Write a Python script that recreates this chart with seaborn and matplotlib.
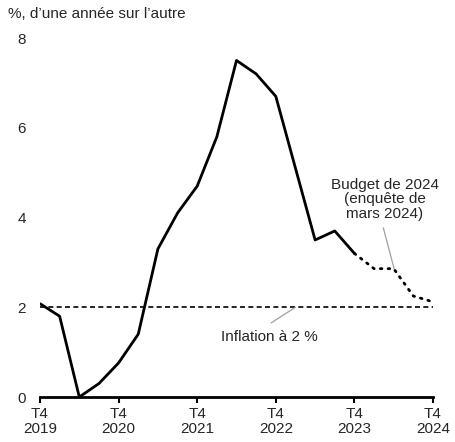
import seaborn as sns
import matplotlib.pyplot as plt
import pandas as pd

# Inflation IPC, trimestres depuis T4 2019
trimestres_hist = list(range(0, 17))
inflation_hist = [2.08, 1.8, 0.0, 0.3, 0.76, 1.4, 3.3, 4.1, 4.7, 5.8, 7.5, 7.2, 6.7, 5.1, 3.5, 3.7, 3.2]
trimestres_proj = [16, 17, 18, 19, 20]
inflation_proj = [3.2, 2.86, 2.86, 2.25, 2.12]
cible = 2.0

tick_pos = [0, 4, 8, 12, 16, 20]
tick_labels = ['T4\n2019', 'T4\n2020', 'T4\n2021', 'T4\n2022', 'T4\n2023', 'T4\n2024']
y_ticks = [0, 2, 4, 6, 8]

sns.set_style('white')
plt.rcParams['font.family'] = ['Liberation Sans', 'DejaVu Sans']
fs = 11

df_hist = pd.DataFrame({'t': trimestres_hist, 'v': inflation_hist})
df_proj = pd.DataFrame({'t': trimestres_proj, 'v': inflation_proj})

fig = plt.figure(figsize=(4.56, 4.42), dpi=100)
ax = fig.add_axes([0.0877, 0.1018, 0.8619, 0.8122])

ax.axhline(cible, color='black', lw=1.2, ls=(0, (3, 2)), zorder=1)
sns.lineplot(data=df_hist, x='t', y='v', ax=ax, color='black', lw=2)
sns.lineplot(data=df_proj, x='t', y='v', ax=ax, color='black', lw=2, ls=(0, (0.6, 2.2)),
             dash_capstyle='round')

ax.set_xlim(0, 20)
ax.set_ylim(0, 8)
ax.set_xticks(tick_pos)
ax.set_xticklabels(tick_labels, fontsize=fs, linespacing=1.15)
ax.set_yticks(y_ticks)
ax.set_yticklabels([str(y) for y in y_ticks], fontsize=fs)
ax.set_xlabel('')
ax.set_ylabel('')

for s in ['top', 'right', 'left']:
    ax.spines[s].set_visible(False)
ax.spines['bottom'].set_linewidth(2)
ax.spines['bottom'].set_color('black')
ax.tick_params(axis='x', length=4, width=1.5, color='black', pad=3, direction='out', bottom=True)
ax.tick_params(axis='y', length=0, pad=10)

fig.text(0.0175, 0.968, "%, d\u2019une année sur l\u2019autre", fontsize=fs, va='center', ha='left')

# étiquettes et traits de rappel
ax.text(17.55, 3.93, 'Budget de 2024\n(enquête de\nmars 2024)', fontsize=fs,
        ha='center', va='bottom', linespacing=1.05)
ax.annotate('', xy=(18.02, 2.86), xytext=(17.47, 3.77),
            arrowprops=dict(arrowstyle='-', color='#a0a0a0', lw=0.9, shrinkA=0, shrinkB=0))
ax.text(9.2, 1.34, 'Inflation à 2 %', fontsize=fs, ha='left', va='center')
ax.annotate('', xy=(13.0, 2.0), xytext=(11.76, 1.65),
            arrowprops=dict(arrowstyle='-', color='#a0a0a0', lw=0.9, shrinkA=0, shrinkB=0))

fig.savefig('out.png', dpi=100)
